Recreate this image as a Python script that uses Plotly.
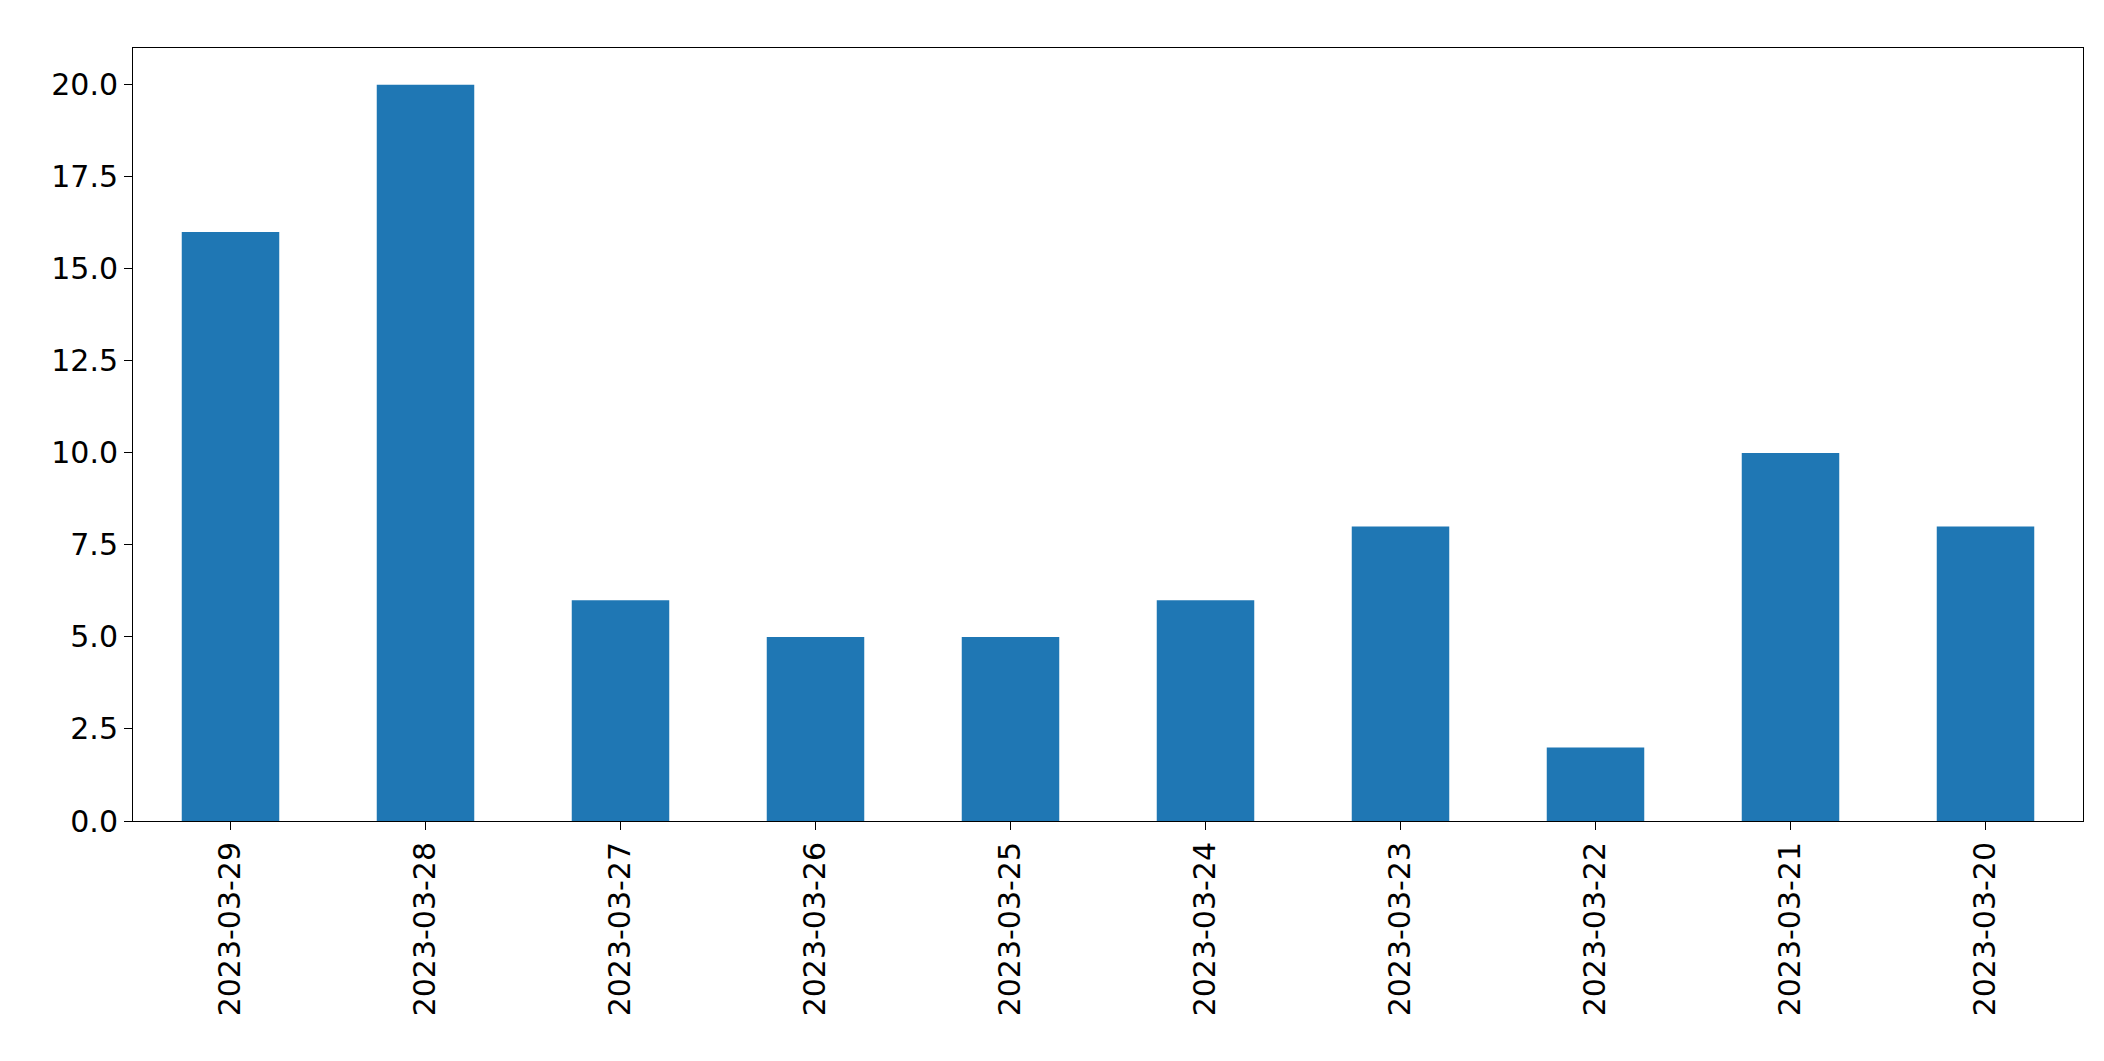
import plotly.graph_objects as go

dates = ['2023-03-29', '2023-03-28', '2023-03-27', '2023-03-26', '2023-03-25',
         '2023-03-24', '2023-03-23', '2023-03-22', '2023-03-21', '2023-03-20']
counts = [16, 20, 6, 5, 5, 6, 8, 2, 10, 8]
y_ticks = [0, 2.5, 5, 7.5, 10, 12.5, 15, 17.5, 20]

fig = go.Figure(go.Bar(x=dates, y=counts, marker_color='#1f77b4', marker_line_width=0, width=0.5))

axis_style = dict(showline=True, linecolor='black', linewidth=1, mirror=True,
                  ticks='outside', ticklen=8, tickcolor='black', showgrid=False, zeroline=False,
                  tickfont=dict(family='DejaVu Sans', size=30, color='black'))

fig.update_xaxes(type='category', tickangle=-90, range=[-0.5, 9.5], **axis_style)
fig.update_yaxes(range=[0, 21], tickvals=y_ticks, ticktext=['%.1f' % v for v in y_ticks], **axis_style)

fig.update_layout(width=2104, height=1061, plot_bgcolor='white', paper_bgcolor='white',
                  margin=dict(l=125, r=29, t=40, b=248), showlegend=False)

fig.write_html("out.html")
